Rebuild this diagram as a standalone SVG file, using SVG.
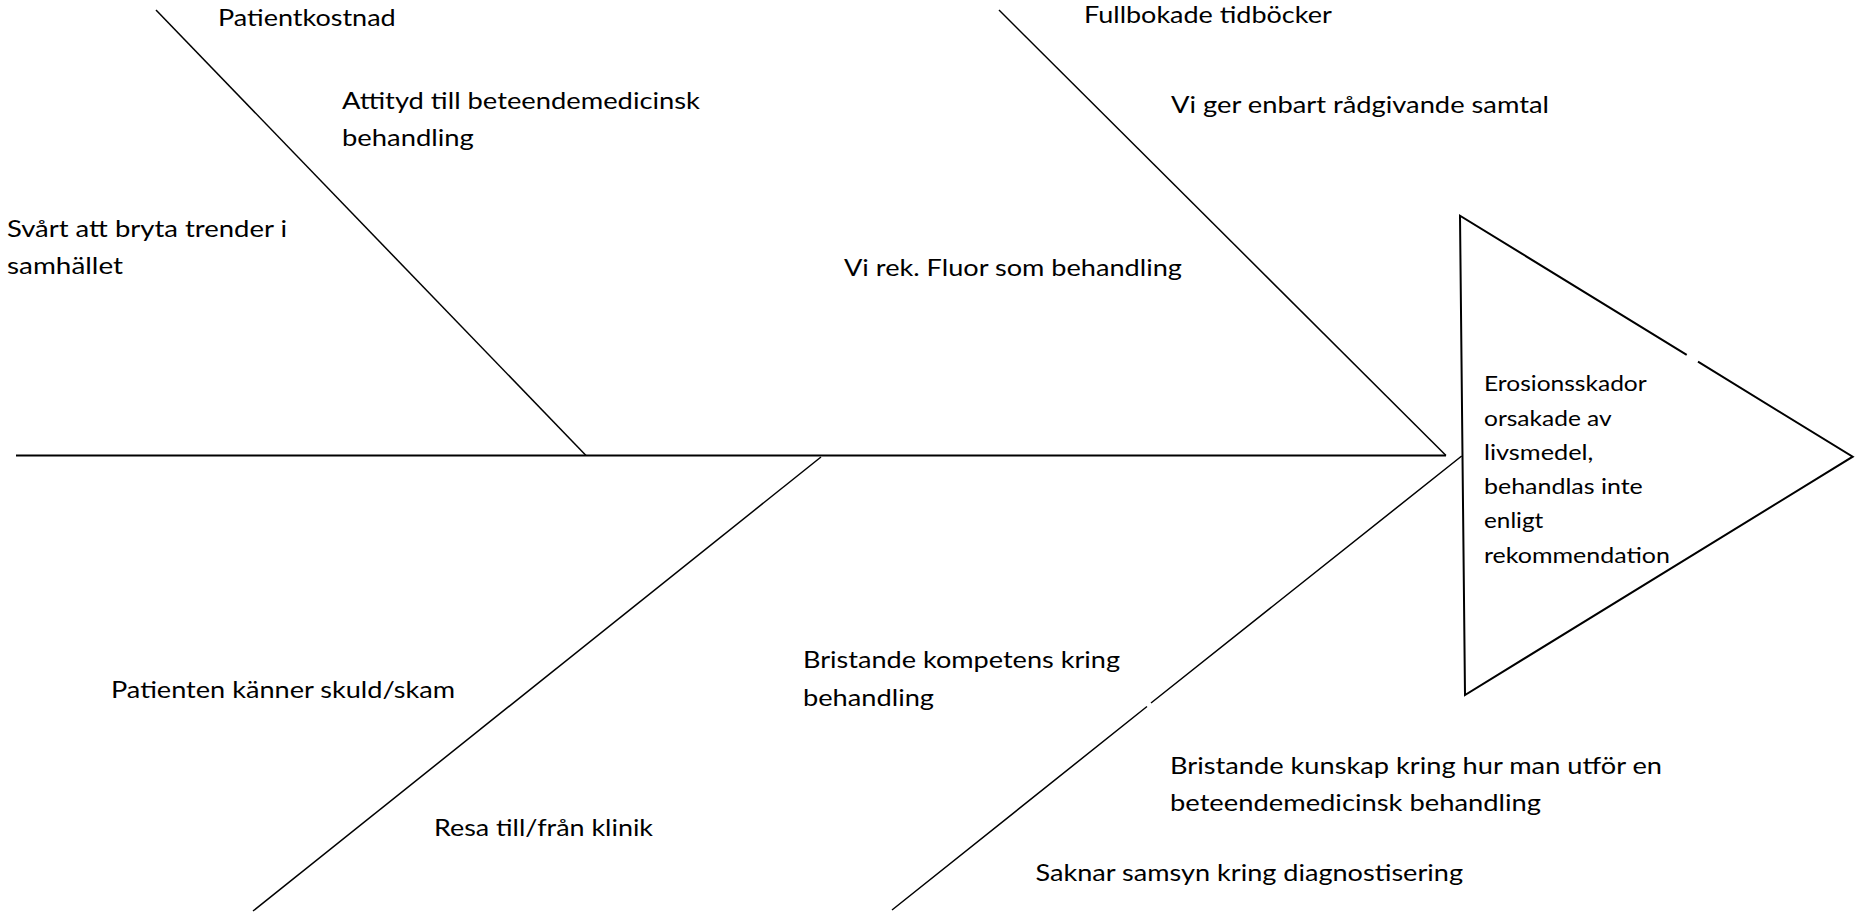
<svg xmlns="http://www.w3.org/2000/svg" width="1855" height="916" viewBox="0 0 1855 916">
<style>
.t{font-family:Lato,"Open Sans","Liberation Sans",sans-serif;font-size:23px;fill:#000}
.m{font-family:Lato,"Open Sans","Liberation Sans",sans-serif;font-size:22px;fill:#000}
.b{stroke:#000;stroke-width:1.5;fill:none}
.s{stroke:#000;stroke-width:2;fill:none}
</style>
<rect width="1855" height="916" fill="#fff"/>
<g id="connectors">
<line class="s" x1="16" y1="455.5" x2="1446" y2="455.5"/>
<line class="b" x1="156" y1="10" x2="586" y2="455.5"/>
<line class="b" x1="999" y1="10" x2="1446" y2="455.5"/>
<line class="b" x1="821" y1="457" x2="253" y2="911"/>
<path class="b" d="M1461.7,456 L1151,703 M1147,706.5 L892,910"/>
</g>
<g id="head">
<path class="s" stroke-linejoin="miter" d="M1698,361.7 L1852.7,456.7 L1465,695 L1460,215.7 L1686.7,354.8"/>
<text class="m" x="1484" y="391" textLength="162.7" lengthAdjust="spacingAndGlyphs">Erosionsskador</text>
<text class="m" x="1484" y="426" textLength="127.7" lengthAdjust="spacingAndGlyphs">orsakade av</text>
<text class="m" x="1484" y="460" textLength="109.3" lengthAdjust="spacingAndGlyphs">livsmedel,</text>
<text class="m" x="1484" y="494" textLength="158.7" lengthAdjust="spacingAndGlyphs">behandlas inte</text>
<text class="m" x="1484" y="528" textLength="59.3" lengthAdjust="spacingAndGlyphs">enligt</text>
<text class="m" x="1484" y="563" textLength="186" lengthAdjust="spacingAndGlyphs">rekommendation</text>
</g>
<g id="cause-patientkostnad"><text class="t" x="218" y="26" textLength="177.7" lengthAdjust="spacingAndGlyphs">Patientkostnad</text></g>
<g id="cause-attityd">
<text class="t" x="342" y="109" textLength="358" lengthAdjust="spacingAndGlyphs">Attityd till beteendemedicinsk</text>
<text class="t" x="342" y="146" textLength="131.8" lengthAdjust="spacingAndGlyphs">behandling</text>
</g>
<g id="cause-trender">
<text class="t" x="7" y="237" textLength="280" lengthAdjust="spacingAndGlyphs">Svårt att bryta trender i</text>
<text class="t" x="7" y="274" textLength="116" lengthAdjust="spacingAndGlyphs">samhället</text>
</g>
<g id="cause-fullbokade"><text class="t" x="1084" y="23" textLength="247.7" lengthAdjust="spacingAndGlyphs">Fullbokade tidböcker</text></g>
<g id="cause-radgivande"><text class="t" x="1171" y="113" textLength="378" lengthAdjust="spacingAndGlyphs">Vi ger enbart rådgivande samtal</text></g>
<g id="cause-fluor"><text class="t" x="844" y="276" textLength="338" lengthAdjust="spacingAndGlyphs">Vi rek. Fluor som behandling</text></g>
<g id="cause-skuld"><text class="t" x="111" y="698" textLength="344" lengthAdjust="spacingAndGlyphs">Patienten känner skuld/skam</text></g>
<g id="cause-resa"><text class="t" x="434" y="836" textLength="219" lengthAdjust="spacingAndGlyphs">Resa till/från klinik</text></g>
<g id="cause-kompetens">
<text class="t" x="803" y="668" textLength="317" lengthAdjust="spacingAndGlyphs">Bristande kompetens kring</text>
<text class="t" x="803" y="706" textLength="131" lengthAdjust="spacingAndGlyphs">behandling</text>
</g>
<g id="cause-kunskap">
<text class="t" x="1170" y="774" textLength="492" lengthAdjust="spacingAndGlyphs">Bristande kunskap kring hur man utför en</text>
<text class="t" x="1170" y="811" textLength="371" lengthAdjust="spacingAndGlyphs">beteendemedicinsk behandling</text>
</g>
<g id="cause-samsyn"><text class="t" x="1035.5" y="881" textLength="427.5" lengthAdjust="spacingAndGlyphs">Saknar samsyn kring diagnostisering</text></g>
</svg>
